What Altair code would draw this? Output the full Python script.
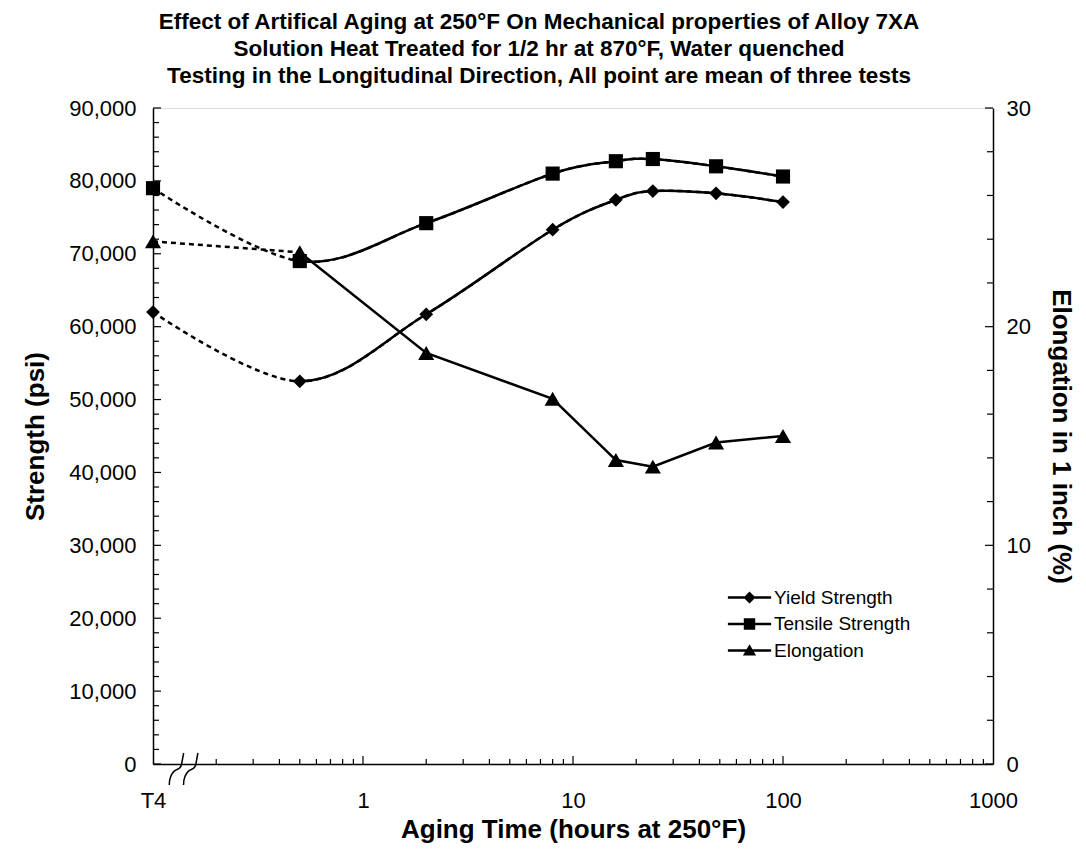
import altair as alt
import pandas as pd

# ---------------- data ----------------
# 0.1 on the log axis is where the T4 (as-quenched) condition is plotted
hours = [0.1, 0.5, 2, 8, 16, 24, 48, 100]
yield_psi = [62000, 52500, 61700, 73300, 77400, 78600, 78300, 77100]
tensile_psi = [79000, 69000, 74200, 81000, 82700, 83000, 82000, 80600]
elong_pct = [23.9, 23.4, 18.8, 16.7, 13.9, 13.6, 14.7, 15.0]

series_names = ["Yield Strength", "Tensile Strength", "Elongation"]

x_major = [0.1, 1, 10, 100, 1000]
x_minor = [0.2, 0.3, 0.4, 0.5, 0.6, 0.7, 0.8, 0.9,
           2, 3, 4, 5, 6, 7, 8, 9,
           20, 30, 40, 50, 60, 70, 80, 90,
           200, 300, 400, 500, 600, 700, 800, 900]
strength_major = [0, 10000, 20000, 30000, 40000, 50000, 60000, 70000, 80000, 90000]
strength_minor = [v for v in range(2000, 90000, 2000) if v % 10000 != 0]
elong_major = [0, 10, 20, 30]
elong_minor = [v for v in range(2, 30, 2) if v % 10 != 0]
break_hours = [0.13, 0.152]

# pixel length of the first (T4 -> 0.5 h) smoothed segment, used as a dash gap
first_seg_gap = {"Yield Strength": 164, "Tensile Strength": 165}

# ---------------- tables ----------------
def long_table(name, values):
    return [{"series": name, "hours": h, "value": v, "idx": i}
            for i, (h, v) in enumerate(zip(hours, values))]

df_y = pd.DataFrame(long_table("Yield Strength", yield_psi))
df_t = pd.DataFrame(long_table("Tensile Strength", tensile_psi))
df_e = pd.DataFrame(long_table("Elongation", elong_pct))

W, H = 840, 656
FONT = "Liberation Sans"

x_scale = alt.Scale(type="log", domain=[0.1, 1000], nice=False)
x_axis = alt.Axis(values=x_major, labelExpr="datum.value < 0.5 ? 'T4' : format(datum.value, 'd')",
                  ticks=False, tickSize=0, grid=False, domainColor="black", domainWidth=1.5,
                  labelFont=FONT, labelFontSize=22, labelColor="black", labelPadding=26,
                  labelFlush=False, labelOverlap=False,
                  title="Aging Time (hours at 250°F)", titleFont=FONT, titleFontSize=26,
                  titleFontWeight="bold", titleColor="black", titlePadding=5)

ys_scale = alt.Scale(domain=[0, 90000], nice=False, zero=True)
ys_axis = alt.Axis(values=strength_major, format=",d", ticks=False, tickSize=0, grid=False,
                   domainColor="black", domainWidth=1.5,
                   labelFont=FONT, labelFontSize=22, labelColor="black", labelPadding=17,
                   title="Strength (psi)", titleFont=FONT, titleFontSize=26,
                   titleFontWeight="bold", titleColor="black", titlePadding=20)

ye_scale = alt.Scale(domain=[0, 30], nice=False, zero=True)
ye_axis = alt.Axis(orient="right", values=elong_major, format="d", ticks=False, tickSize=0, grid=False,
                   domainColor="black", domainWidth=1.5,
                   labelFont=FONT, labelFontSize=22, labelColor="black", labelPadding=13,
                   title="Elongation in 1 inch (%)", titleFont=FONT, titleFontSize=26,
                   titleFontWeight="bold", titleColor="black", titlePadding=17)

X = alt.X("hours:Q", scale=x_scale, axis=x_axis)
YS = alt.Y("value:Q", scale=ys_scale, axis=ys_axis)
YE = alt.Y("value:Q", scale=ye_scale, axis=ye_axis)

LW = 2.5

def smooth_lines(data, y, name):
    # whole series smoothed, dashed (only the T4 -> 0.5 h part stays visible)
    dashed = alt.Chart(data).mark_line(color="black", strokeWidth=LW, strokeDash=[5, 4],
                                       interpolate="cardinal").encode(x=X, y=y, order="idx:Q")
    # same smoothed series, solid from 0.5 h onwards
    solid = alt.Chart(data).mark_line(color="black", strokeWidth=LW, interpolate="cardinal",
                                      strokeDash=[0, first_seg_gap[name], 5000, 0]).encode(
        x=X, y=y, order="idx:Q")
    return [dashed, solid]

def straight_lines(data, y):
    dashed = alt.Chart(data).mark_line(color="black", strokeWidth=LW, strokeDash=[5, 4]).encode(
        x=X, y=y, order="idx:Q").transform_filter("datum.idx <= 1")
    solid = alt.Chart(data).mark_line(color="black", strokeWidth=LW).encode(
        x=X, y=y, order="idx:Q").transform_filter("datum.idx >= 1")
    return [dashed, solid]

pts_yield = alt.Chart(df_y).mark_point(shape="diamond", filled=True, color="black",
                                       size=190, opacity=1).encode(x=X, y=YS)
pts_tensile = alt.Chart(df_t).mark_point(shape="square", filled=True, color="black",
                                         size=200, opacity=1).encode(x=X, y=YS)
pts_elong = alt.Chart(df_e).mark_point(shape="triangle-up", filled=True, color="black",
                                       size=260, opacity=1).encode(x=X, y=YE)

# inward tick marks
def xticks(vals, length):
    return alt.Chart(pd.DataFrame({"hours": vals})).mark_rule(color="black", strokeWidth=1.2).encode(
        x=X, y=alt.value(H), y2=alt.value(H - length))

def yticks(vals, enc_y, left, length):
    x0 = 0 if left else W
    x1 = length if left else W - length
    return alt.Chart(pd.DataFrame({"value": vals})).mark_rule(color="black", strokeWidth=1.2).encode(
        y=enc_y, x=alt.value(x0), x2=alt.value(x1))

# axis-break symbols
break_path = "M-0.48,1 C-0.48,0.55 -0.35,0.3 -0.15,0.12 C0.05,-0.05 0.25,0.05 0.3,-0.35 L0.42,-1"
breaks = alt.Chart(pd.DataFrame({"hours": break_hours, "value": [0, 0]})).mark_point(
    shape=break_path, filled=False, color="black", strokeWidth=1.5, size=1024, opacity=1, yOffset=5
).encode(x=X, y=YS)

# legend carrier (line + marker symbols)
LINE = "M-3.6,-0.21H3.6V0.21H-3.6Z"
legend_paths = [
    LINE + "M0,-1L1,0L0,1L-1,0Z",
    LINE + "M-0.95,-0.95H0.95V0.95H-0.95Z",
    LINE + "M0,-1.05L1.1,0.85H-1.1Z",
]
legend_layer = alt.Chart(pd.DataFrame({"series": series_names})).mark_point(
    filled=True, fill="black", opacity=1
).encode(
    shape=alt.Shape("series:N", scale=alt.Scale(domain=series_names, range=legend_paths),
                    legend=alt.Legend(orient="none", legendX=587, legendY=480, title=None,
                                      symbolSize=144, symbolFillColor="black",
                                      labelFont=FONT, labelFontSize=19, labelColor="black",
                                      labelOffset=15, rowPadding=6.5, padding=0))
).transform_filter("false")

strength_group = alt.layer(
    *smooth_lines(df_y, YS, "Yield Strength"),
    *smooth_lines(df_t, YS, "Tensile Strength"),
    pts_yield, pts_tensile,
    xticks(x_major[1:4], 8), xticks(x_minor, 5),
    yticks(strength_major, alt.Y("value:Q", scale=ys_scale, axis=ys_axis), True, 8),
    yticks(strength_minor, alt.Y("value:Q", scale=ys_scale, axis=ys_axis), True, 6),
    breaks, legend_layer,
)
elong_group = alt.layer(
    *straight_lines(df_e, YE),
    pts_elong,
    yticks(elong_major, alt.Y("value:Q", scale=ye_scale, axis=ye_axis), False, 8),
    yticks(elong_minor, alt.Y("value:Q", scale=ye_scale, axis=ye_axis), False, 6),
)

chart = alt.layer(strength_group, elong_group).resolve_scale(y="independent").properties(
    width=W, height=H,
    autosize=alt.AutoSizeParams(type="none"),
    padding={"left": 145, "top": 100, "right": 85, "bottom": 80},
    title=alt.TitleParams(
        text=["Effect of Artifical Aging at 250°F On Mechanical properties of Alloy 7XA",
              "Solution Heat Treated for 1/2 hr at 870°F, Water quenched",
              "Testing in the Longitudinal Direction, All point are mean of three tests"],
        font=FONT, fontSize=22.5, fontWeight="bold", color="black", anchor="middle",
        frame="group", dx=-34, offset=10, lineHeight=27),
).configure_view(stroke="#808080", strokeWidth=1).configure(background="white")

chart.save("out.html", embed_options={"renderer": "svg", "actions": False})
